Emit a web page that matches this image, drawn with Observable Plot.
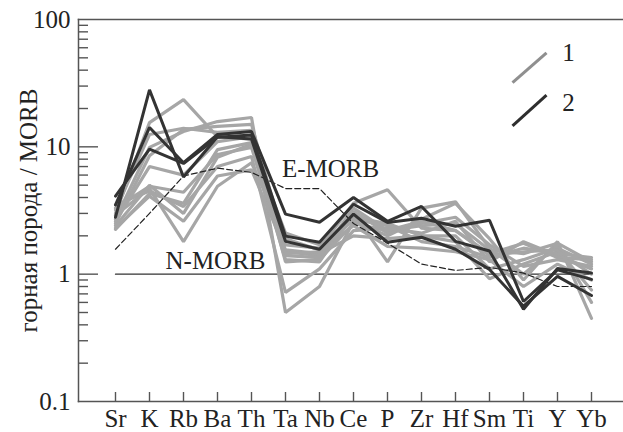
<!DOCTYPE html>
<html>
<head>
<meta charset="utf-8">
<script src="https://cdn.jsdelivr.net/npm/d3@7"></script>
<script src="https://cdn.jsdelivr.net/npm/@observablehq/plot@0.6"></script>
<style>
  html, body { margin: 0; padding: 0; background: #fff; }
  #chart svg { display: block; }
  #chart svg, #chart svg text, #chart svg g { font-family: "Liberation Serif", "Times New Roman", "DejaVu Serif", serif !important; }
</style>
</head>
<body>
<div id="chart"></div>
<script>
// Elements (x categories)
const elements = ["Sr","K","Rb","Ba","Th","Ta","Nb","Ce","P","Zr","Hf","Sm","Ti","Y","Yb"];

// Y axis tick labels
const yMajorTicks = [0.1, 1, 10, 100];
const yMajorTickMarks = [1, 10];
const yMinorTicks = [0.2,0.3,0.4,0.5,0.6,0.7,0.8,0.9, 2,3,4,5,6,7,8,9, 20,30,40,50,60,70,80,90];

// Group 1 (grey) samples, rock / N-MORB
const group1 = [
  [3.0, 15.5, 23.5, 12.0, 11.5, 1.5, 1.4, 3.3, 2.2, 2.4, 2.5, 1.55, 1.45, 1.75, 1.25],
  [2.7, 9.9, 13.2, 15.8, 17.0, 0.5, 0.8, 2.6, 2.0, 2.7, 3.6, 1.9, 0.9, 1.8, 0.45],
  [2.5, 8.5, 13.7, 14.5, 15.0, 1.7, 1.6, 3.6, 4.6, 2.3, 2.2, 1.45, 1.75, 1.35, 1.3],
  [3.3, 4.9, 4.4, 8.7, 9.9, 1.3, 1.25, 3.0, 1.25, 3.3, 3.7, 1.6, 1.0, 1.7, 0.6],
  [3.5, 4.5, 3.4, 7.0, 8.4, 0.72, 1.1, 2.2, 2.3, 2.1, 2.6, 1.25, 1.8, 1.4, 1.1],
  [2.3, 4.1, 2.6, 5.9, 6.6, 1.55, 1.45, 2.0, 1.9, 2.0, 1.8, 0.92, 1.2, 1.5, 1.0],
  [2.9, 4.7, 1.8, 4.9, 7.5, 1.9, 1.55, 2.4, 1.65, 1.6, 1.5, 1.3, 0.8, 1.2, 0.9],
  [2.4, 5.0, 3.0, 8.3, 10.5, 2.1, 1.7, 2.8, 2.5, 2.0, 2.0, 1.1, 1.3, 1.6, 1.2],
  [3.2, 12.5, 14.0, 13.0, 13.5, 1.4, 1.35, 3.1, 2.1, 2.5, 2.8, 1.7, 1.15, 1.3, 1.15],
  [2.6, 7.0, 6.0, 11.0, 12.0, 1.25, 1.3, 2.5, 2.2, 2.6, 2.2, 1.4, 1.5, 1.55, 0.75],
  [2.25, 4.3, 3.6, 9.5, 10.8, 1.45, 1.5, 2.7, 2.4, 1.8, 1.65, 1.35, 1.6, 1.45, 1.35]
];

// Group 2 (dark) samples
const group2 = [
  [2.8, 28, 5.8, 12.0, 11.5, 1.81, 1.57, 2.96, 1.78, 1.95, 1.57, 1.09, 0.56, 0.96, 0.68],
  [3.5, 14.2, 7.5, 12.5, 13.2, 2.96, 2.56, 4.0, 2.6, 3.4, 1.81, 1.52, 0.53, 1.11, 1.02],
  [4.1, 9.6, 7.4, 11.9, 12.4, 1.99, 1.78, 3.54, 2.55, 2.75, 2.38, 2.65, 0.61, 1.08, 0.91]
];

// Reference compositions
const emorb = [1.57, 3.0, 5.9, 6.8, 6.3, 4.7, 4.7, 2.5, 1.75, 1.2, 1.07, 1.13, 1.02, 0.8, 0.8];
const nmorb = [1, 1, 1, 1, 1, 1, 1, 1, 1, 1, 1, 1, 1, 1, 1];

// Annotations
const eLabel = [{text: "E-MORB", el: "Nb", v: 6.7}];
const nLabel = [{text: "N-MORB", el: "Ba", v: 1.265}];
const legendItems = [
  {label: "1", a: "Sm", b: "Ti", v1: 31.9, v2: 54.8, lab: "Y", lv: 54.1, color: "#8f8f8f"},
  {label: "2", a: "Sm", b: "Ti", v1: 14.6, v2: 25.5, lab: "Y", lv: 21.9, color: "#2e2e2e"}
];
const yLabel = "горная порода / MORB";

const toRows = (arr, group) => arr.flatMap((s, i) => s.map((v, j) => ({el: elements[j], v, id: group + i})));
const rows1 = toRows(group1, "g");
const rows2 = toRows(group2, "d");
const rowsE = emorb.map((v, j) => ({el: elements[j], v}));
const rowsN = nmorb.map((v, j) => ({el: elements[j], v}));

const W = 623, H = 432, ML = 78, MR = 0, MT = 19, MB = 31;
const axisColor = "#555";
const font = "Liberation Serif, Times New Roman, DejaVu Serif, serif";
const fs = 25;

const chart = Plot.plot({
  width: W,
  height: H,
  marginLeft: ML,
  marginRight: MR,
  marginTop: MT,
  marginBottom: MB,
  style: {fontFamily: font, fontSize: "25px", color: "#222", background: "#fff"},
  x: {type: "point", domain: elements, range: [113.3, 591.7], padding: 0},
  y: {type: "log", domain: [0.1, 100]},
  marks: [
    // frame
    Plot.frame({anchor: "left", stroke: axisColor, strokeWidth: 1.5}),
    Plot.frame({anchor: "top", stroke: axisColor, strokeWidth: 1.5}),
    Plot.frame({anchor: "bottom", stroke: axisColor, strokeWidth: 1.5}),
    // y axis labels
    Plot.axisY({ticks: yMajorTicks, tickSize: 0, tickPadding: 8, tickFormat: d => String(d), fontSize: fs, fontFamily: font, label: null}),
    // inward y ticks: outward-style ticks shifted right by their own length
    Plot.axisY({ticks: yMajorTickMarks, tickSize: 20, dx: 20, tickFormat: () => "", stroke: axisColor, strokeWidth: 1.4, label: null}),
    Plot.axisY({ticks: yMinorTicks, tickSize: 10, dx: 10, tickFormat: () => "", stroke: axisColor, strokeWidth: 1.4, label: null}),
    // inward x ticks
    Plot.axisX({tickSize: 9, dy: -9, tickFormat: () => "", stroke: axisColor, strokeWidth: 1.4, label: null}),
    // x labels
    Plot.axisX({tickSize: 0, tickPadding: 8, fontSize: fs, fontFamily: font, label: null}),
    // y title
    Plot.text([yLabel], {frameAnchor: "left", textAnchor: "middle", rotate: -90, dx: -50, text: d => d, fontSize: fs, fontFamily: font, fill: "#222"}),
    // references
    Plot.line(rowsN, {x: "el", y: "v", stroke: "#333", strokeWidth: 1.3}),
    Plot.line(rows1, {x: "el", y: "v", z: "id", stroke: "#a6a6a6", strokeWidth: 3.2, strokeLinejoin: "miter"}),
    Plot.line(rowsE, {x: "el", y: "v", stroke: "#222", strokeWidth: 1.2, strokeDasharray: "6,3"}),
    Plot.line(rows2, {x: "el", y: "v", z: "id", stroke: "#333", strokeWidth: 3, strokeLinejoin: "miter"}),
    Plot.text(eLabel, {x: "el", y: "v", text: "text", dx: 11, fontSize: fs, fontFamily: font, fill: "#222"}),
    Plot.text(nLabel, {x: "el", y: "v", text: "text", dx: -2, fontSize: fs, fontFamily: font, fill: "#222"}),
    // legend
    Plot.link(legendItems, {x1: "a", x2: "b", y1: "v1", y2: "v2", dx: 23, stroke: "color", strokeWidth: 3}),
    Plot.text(legendItems, {x: "lab", y: "lv", text: "label", dx: 11, fontSize: fs, fontFamily: font, fill: "#222"})
  ]
});
document.getElementById("chart").appendChild(chart);
</script>
</body>
</html>
